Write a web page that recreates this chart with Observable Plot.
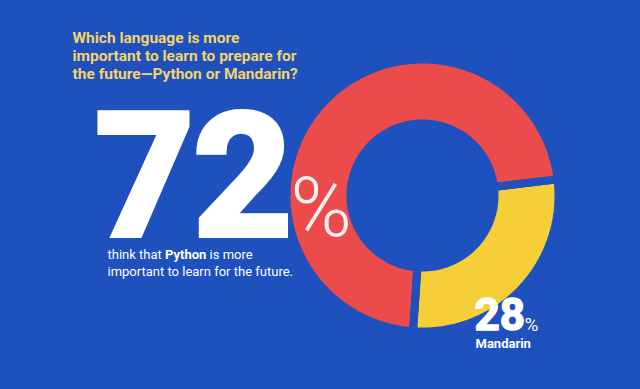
<!DOCTYPE html>
<html>
<head>
<meta charset="utf-8">
<script src="https://cdn.jsdelivr.net/npm/d3@7"></script>
<script src="https://cdn.jsdelivr.net/npm/@observablehq/plot@0.6"></script>
<style>
  html, body { margin: 0; padding: 0; background: #1e50be; }
  #chart svg { display: block; }
</style>
</head>
<body>
<div id="chart"></div>
<script>
// ---- data ----
const languages = ["Python", "Mandarin"];
const shares = [72, 28];
const shareLabels = ["72", "28"];
const titleLines = [
  "Which language is more",
  "important to learn to prepare for",
  "the future\u2014Python or Mandarin?"
];
const pythonCaption = ["think that ", "Python", " is more", "important to learn for the future."];
const mandarinCaption = ["Mandarin"];

// ---- style / layout ----
const W = 640, H = 389;
const BG = "#1e50be";
const sliceColor = {Python: "#eb4b4a", Mandarin: "#f6cf38"};
const FONT = "Roboto, 'Liberation Sans', sans-serif";
const cx = 422, cy = 195, R = 132;      // ring centre and outer radius (px)
const gap = 8;                           // gap between slices (px)
const rOut = (R + gap / 2) / R;
const rIn = (76 - gap / 2) / R;

const pie = d3.pie()
  .sort(null)
  .value(d => d.share)
  .startAngle(184 * Math.PI / 180)
  .endAngle((184 + 360) * Math.PI / 180);
const slices = pie(languages.map((name, i) => ({name, share: shares[i]})));

function sector(s) {
  const pts = [];
  const n = Math.max(2, Math.ceil((s.endAngle - s.startAngle) / 0.01));
  for (let k = 0; k <= n; ++k) {
    const a = s.startAngle + (s.endAngle - s.startAngle) * k / n;
    pts.push({x: rOut * Math.sin(a), y: rOut * Math.cos(a)});
  }
  for (let k = n; k >= 0; --k) {
    const a = s.startAngle + (s.endAngle - s.startAngle) * k / n;
    pts.push({x: rIn * Math.sin(a), y: rIn * Math.cos(a)});
  }
  return pts;
}

// text width measurement for the mixed-weight caption line
const ctx = document.createElement("canvas").getContext("2d");
function measure(str, weight, size) {
  ctx.font = `${weight} ${size}px Roboto`;
  return ctx.measureText(str).width;
}
const capX = 107, capSize = 13;
const w0 = measure(pythonCaption[0], 400, capSize);
const w1 = measure(pythonCaption[1], 700, capSize);

const txt = (str, o) => Plot.text([str], {
  text: d => d, frameAnchor: "top-left", textAnchor: "start", lineAnchor: "bottom",
  fontFamily: FONT, ...o
});

const plot = Plot.plot({
  width: W, height: H, margin: 0,
  style: {background: BG, fontFamily: FONT, overflow: "visible"},
  x: {domain: [-1, 1], range: [cx - R, cx + R], axis: null},
  y: {domain: [-1, 1], range: [cy + R, cy - R], axis: null},
  marks: [
    ...slices.map(s => Plot.line(sector(s), {
      x: "x", y: "y", curve: "linear-closed",
      fill: sliceColor[s.data.name], stroke: "none"
    })),
    ...slices.map(s => Plot.line(sector(s), {
      x: "x", y: "y", curve: "linear-closed",
      fill: "none", stroke: BG, strokeWidth: gap, strokeLinejoin: "miter"
    })),
    ...titleLines.map((line, i) =>
      txt(line, {dx: 72, dy: 42 + 18 * i, fontSize: 15.5, fontWeight: 700, fill: "#f2d46a"})),
    txt(shareLabels[0], {dx: 95, dy: 234, fontSize: 171, fontWeight: 700, fill: "#ffffff",
      stroke: "#ffffff", strokeWidth: 6, strokeLinejoin: "miter"}),
    txt("%", {dx: 290, dy: 235, fontSize: 83, fontWeight: 300, fill: "#fdf2f2"}),
    txt(pythonCaption[0], {dx: capX, dy: 258, fontSize: capSize, fontWeight: 400, fill: "#ffffff"}),
    txt(pythonCaption[1], {dx: capX + w0, dy: 258, fontSize: capSize, fontWeight: 700, fill: "#ffffff"}),
    txt(pythonCaption[2], {dx: capX + w0 + w1, dy: 258, fontSize: capSize, fontWeight: 400, fill: "#ffffff"}),
    txt(pythonCaption[3], {dx: capX, dy: 275, fontSize: capSize, fontWeight: 400, fill: "#ffffff"}),
    txt(shareLabels[1], {dx: 474, dy: 329, fontSize: 44, fontWeight: 700, fill: "#ffffff",
      stroke: "#ffffff", strokeWidth: 1.5, strokeLinejoin: "miter"}),
    txt("%", {dx: 524, dy: 330, fontSize: 19, fontWeight: 400, fill: "#ffffff"}),
    txt(mandarinCaption[0], {dx: 475, dy: 347, fontSize: 13, fontWeight: 700, fill: "#ffffff"})
  ]
});

document.getElementById("chart").appendChild(plot);
</script>
</body>
</html>
